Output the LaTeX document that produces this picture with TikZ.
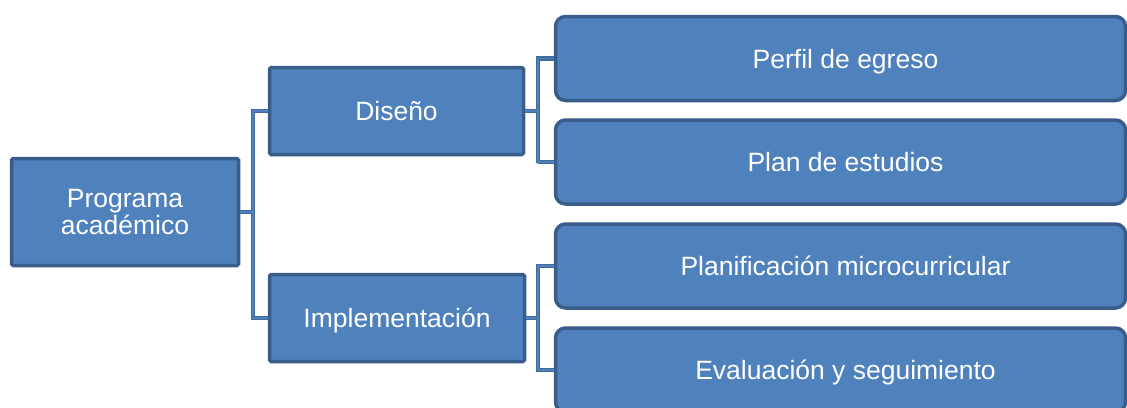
\documentclass[tikz,border=0pt]{standalone}
\usepackage{fontspec}
\setmainfont{Liberation Sans}
\usetikzlibrary{positioning}
\definecolor{boxfill}{HTML}{4F81BD}
\definecolor{boxedge}{HTML}{385D8A}
\definecolor{linkedge}{HTML}{41699B}
\tikzset{
  leftbox/.style={draw=boxedge,fill=boxfill,line width=3.5pt,rounded corners=1.5pt,
    text=white,align=center,font=\fontsize{26.5}{26.5}\selectfont,inner sep=0pt},
  oneline/.style={text height=19pt,text depth=0pt},
  rightbox/.style={leftbox,oneline,rounded corners=10pt,minimum width=570pt,minimum height=84pt}
}
\begin{document}
\begin{tikzpicture}[x=1pt,y=-1pt]
\useasboundingbox (0,0) rectangle (1127,407);
% first level
\node[leftbox,minimum width=227pt,minimum height=107pt] (prog) at (125,212) {Programa\\acad\'emico};
\node[leftbox,oneline,minimum width=254pt,minimum height=87pt] (dis) at (396.5,111) {Dise\~no};
\node[leftbox,oneline,minimum width=255pt,minimum height=87pt] (imp) at (397,318) {Implementaci\'on};
% second level
\node[rightbox] (perf) at (840.5,58.5) {\hspace*{10pt}Perfil de egreso};
\node[rightbox] (plan) at (840.5,162) {\hspace*{10pt}Plan de estudios};
\node[rightbox] (micro) at (840.5,266) {\hspace*{10pt}Planificaci\'on microcurricular};
\node[rightbox] (eval) at (840.5,370) {\hspace*{10pt}Evaluaci\'on y seguimiento};
\coordinate (railA) at (253,318);
\coordinate (railB) at (538,163);
\coordinate (railC) at (538,367);
% connectors, dark pass then light pass
\foreach \w/\c in {4.6pt/linkedge, 1.8pt/boxfill}{
  \draw[\c,line width=\w] (dis.west) -| (railA) |- (imp.west);
  \draw[\c,line width=\w] (prog.east) -- (prog.east -| railA);
  \draw[\c,line width=\w] (perf.west) -| (railB) |- (plan.west);
  \draw[\c,line width=\w] (dis.east) -- (dis.east -| railB);
  \draw[\c,line width=\w] (micro.west) -| (railC) |- (eval.west);
  \draw[\c,line width=\w] (imp.east) -- (imp.east -| railC);
}
\end{tikzpicture}
\end{document}
